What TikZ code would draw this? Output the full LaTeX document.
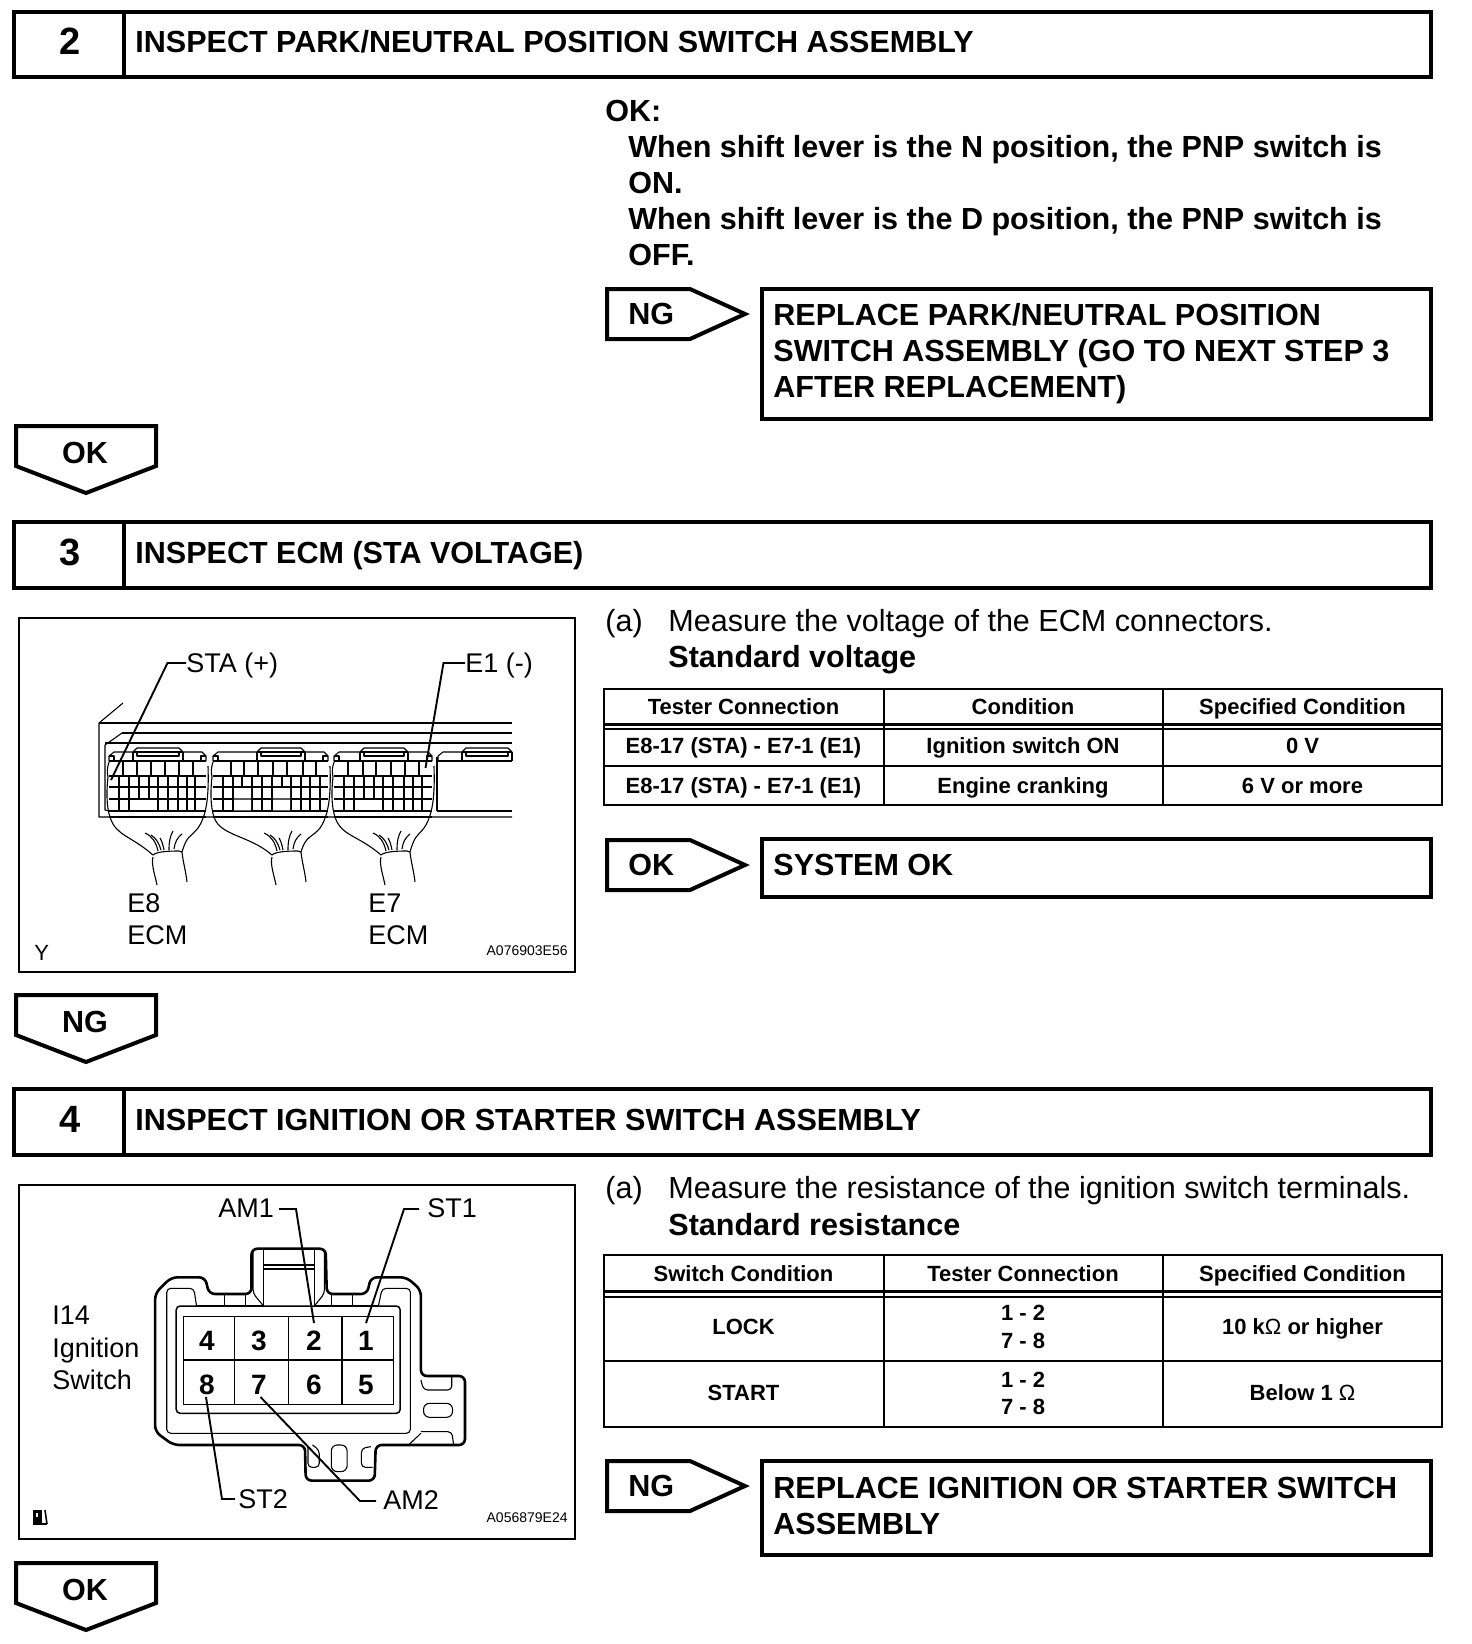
\documentclass[tikz,border=0pt]{standalone}
\usepackage{fontspec}
\setmainfont{Liberation Sans}
\newcommand\fbig{\fontsize{15.27pt}{18pt}\selectfont}
\newcommand\fnum{\fontsize{19pt}{22pt}\selectfont\bfseries}
\newcommand\flab{\fontsize{13.5pt}{16pt}\selectfont}
\newcommand\ftab{\fontsize{11pt}{13pt}\selectfont\bfseries}
\newcommand\fpin{\fontsize{14pt}{16pt}\selectfont\bfseries}
\newcommand\fcode{\fontsize{7pt}{9pt}\selectfont}
\tikzset{
  heavy/.style={line width=2pt,line join=miter},
  frame/.style={line width=1.25pt},
  tabline/.style={line width=1.1pt},
  fine/.style={line width=.55pt,line join=round},
  mid/.style={line width=1.2pt,line join=round},
  leader/.style={line width=.95pt},
  tb/.style={anchor=base west,inner sep=0pt,font=\fbig\bfseries},
  tr/.style={anchor=base west,inner sep=0pt,font=\fbig},
  lab/.style={anchor=base west,inner sep=0pt,font=\flab},
  cell/.style={anchor=base,inner sep=0pt,font=\ftab},
  pin/.style={anchor=base,inner sep=0pt,font=\fpin},
  code/.style={anchor=base east,inner sep=0pt,font=\fcode},
  flagtext/.style={anchor=base,inner sep=0pt,font=\fbig\bfseries},
  numtext/.style={anchor=base,inner sep=0pt,font=\fnum}
}
% header bar: name, top y, bottom y, number, text
\newcommand\headerbar[5]{%
  \draw[heavy] (14,#2) rectangle (1431,#3);
  \draw[heavy] (124,#2) -- (124,#3);
  \node[numtext] (#1num) at (70,#3-23) {#4};
  \node[tb] (#1txt) at (135,#3-25) {#5};
}
% side flag: name, top y, text
\newcommand\sideflag[3]{%
  \draw[heavy] (607,#2+2) -- (690,#2+2) -- (745,#2+27) -- (690,#2+52) -- (607,#2+52) -- cycle;
  \node[tb] (#1) at (628,#2+37) {#3};
}
% down flag: name, top y, text
\newcommand\downflag[3]{%
  \draw[heavy] (16,#2+1) -- (156,#2+1) -- (156,#2+41) -- (86,#2+68) -- (16,#2+41) -- cycle;
  \node[flagtext] (#1) at (85,#2+38) {#3};
}
% ECM connector: L R tabL tabR C
\newcommand\ecmmod[5]{%
  \draw[fine] (#1+1,761) -- (#1+1,756) -- (#1+6,752) -- (#3,752) -- (#3+4,748) -- (#4-4,748) -- (#4,752) -- (#2-6,752) -- (#2-2,756) -- (#2-2,761);
  \draw[fine] (#3,752) -- (#4,752) (#3+4,752) -- (#3+4,756) -- (#4-4,756) -- (#4-4,752);
  \draw[fine] (#3,752) -- (#3,761) (#4,752) -- (#4,761);
  \draw[fine] (#1+1,756) -- (#1+6,756) -- (#1+6,761) (#2-2,756) -- (#2-7,756) -- (#2-7,761);
  \draw[fine] (#1+1,761) -- (#2-2,761);
  \draw[mid] (#1+1,776) -- (#2-2,776);
  \draw[fine] (#1+1,787) -- (#2-2,787) (#1+1,799) -- (#2-2,799) (#1+1,811) -- (#2-2,811) (#1+1,817) -- (#2-2,817);
  \draw[fine] (#1,777) .. controls (#1-2,795) and (#1-1,808) .. (#1+2,817) .. controls (#1+8,836) and (#5-35,835) .. (#5-12,855);
  \draw[fine] (#1+1,762) .. controls (#1-1,768) and (#1-1,772) .. (#1,777);
  \draw[fine] (#2,766) .. controls (#2+1,795) and (#2-1,815) .. (#2-10,828) .. controls (#2-18,838) and (#5+22,835) .. (#5+17,852);
  \draw[fine] (#5-12,855) .. controls (#5-8,851) and (#5+8,851) .. (#5+14,851) -- (#5+17,852);
  \draw[fine] (#5-12,857) .. controls (#5-14,864) and (#5-10,875) .. (#5-8,885);
  \draw[fine] (#5+17,852) .. controls (#5+18,862) and (#5+21,872) .. (#5+22,882);
  \draw[fine] (#5-7,851) .. controls (#5-9,842) and (#5-13,836) .. (#5-20,833);
  \draw[fine] (#5-4,850) .. controls (#5-6,843) and (#5-9,838) .. (#5-14,835);
  \draw[fine] (#5-1,850) .. controls (#5-2,845) and (#5-3,841) .. (#5-5,838);
  \draw[fine] (#5+4,850) .. controls (#5+4,842) and (#5+5,836) .. (#5+8,831);
  \draw[fine] (#5+9,849) .. controls (#5+10,842) and (#5+12,838) .. (#5+17,834);
}
\begin{document}
\begin{tikzpicture}[x=.5pt,y=-.5pt]
\useasboundingbox (0,0) rectangle (1472,1644);
\fill[white] (0,0) rectangle (1472,1644);

%% ---------- step 2
\headerbar{hA}{12}{77}{2}{INSPECT PARK/NEUTRAL POSITION SWITCH ASSEMBLY}
\node[tb] (okA) at (605,121) {OK:};
\node[tb] (okA1) at (628,157) {When shift lever is the N position, the PNP switch is};
\node[tb] (okA2) at (628,193) {ON.};
\node[tb] (okA3) at (628,229) {When shift lever is the D position, the PNP switch is};
\node[tb] (okA4) at (628,265) {OFF.};
\sideflag{ngA}{287}{NG}
\draw[heavy] (762,289) rectangle (1431,419);
\node[tb] (repA1) at (773,325) {REPLACE PARK/NEUTRAL POSITION};
\node[tb] (repA2) at (773,361) {SWITCH ASSEMBLY (GO TO NEXT STEP 3};
\node[tb] (repA3) at (773,397) {AFTER REPLACEMENT)};
\downflag{dfA}{425}{OK}

%% ---------- step 3
\headerbar{hB}{522}{588}{3}{INSPECT ECM (STA VOLTAGE)}
\draw[frame] (19,618) rectangle (575,972);
\node[tr] (aB) at (605,631) {(a)};
\node[tr] (mB) at (668,631) {Measure the voltage of the ECM connectors.};
\node[tb] (sB) at (668,667) {Standard voltage};
% table
\draw[tabline] (604,689) rectangle (1442,805);
\draw[tabline] (884,689) -- (884,805) (1163,689) -- (1163,805) (604,766) -- (1442,766);
\draw[line width=1.5pt] (604,724) -- (1442,724);
\draw[tabline] (604,729) -- (1442,729);
\node[cell] (t1a) at (743.5,714) {Tester Connection};
\node[cell] (t1b) at (1023,714) {Condition};
\node[cell] (t1c) at (1302.5,714) {Specified Condition};
\node[cell] (t1d) at (743.5,753) {E8-17 (STA) - E7-1 (E1)};
\node[cell] (t1e) at (1023,753) {Ignition switch ON};
\node[cell] (t1f) at (1302.5,753) {0 V};
\node[cell] (t1g) at (743.5,793) {E8-17 (STA) - E7-1 (E1)};
\node[cell] (t1h) at (1023,793) {Engine cranking};
\node[cell] (t1i) at (1302.5,793) {6 V or more};
\sideflag{okB}{838}{OK}
\draw[heavy] (762,839) rectangle (1431,897);
\node[tb] (sysB) at (773,875) {SYSTEM OK};
\downflag{dfB}{994}{NG}

% ECM housing
\draw[fine] (123,703) -- (99,723) -- (99,817) -- (512,817);
\draw[fine] (99,723) -- (512,723);
\draw[line width=.95pt] (122,733) -- (512,733);
\draw[fine] (122,733) -- (105,745) -- (105,810) -- (109,811);
\draw[fine] (105,743) -- (512,743);
\draw[fine] (437,811) -- (512,811) (437,757) -- (437,811);
\ecmmod{108}{208}{133}{183}{165}
\ecmmod{212}{330}{257}{305}{284}
\ecmmod{333}{434}{360}{408}{393}
% fourth connector stub
\draw[fine] (438,761) -- (438,756) -- (443,752) -- (462,752) -- (466,748) -- (508,748) -- (512,752);
\draw[fine] (462,752) -- (512,752) (466,752) -- (466,756) -- (508,756) -- (508,752);
\draw[fine] (462,752) -- (462,761) -- (512,761) (512,752) -- (512,761);
\draw[fine] (438,761) -- (462,761);
% cell walls, connector E8
\foreach \x in {123,151,179,193} \draw[fine] (\x,761) -- (\x,776);
\foreach \x in {137,165} \draw[mid] (\x,761) -- (\x,776);
\foreach \x in {119,129,158,168,178,195} \draw[fine] (\x,776) -- (\x,811);
\foreach \x in {139,149} \draw[fine] (\x,776) -- (\x,799);
\draw[mid] (187,776) -- (187,811);
% middle connector
\foreach \x in {231,244,258,273,287,303} \draw[fine] (\x,761) -- (\x,776);
\draw[mid] (316,761) -- (316,776);
\foreach \x in {223,233,252,272,301,310,320} \draw[fine] (\x,776) -- (\x,811);
\draw[fine] (242,776) -- (242,787) (282,776) -- (282,787);
\foreach \x in {262,291} \draw[mid] (\x,776) -- (\x,811);
\fill[white] (234,788) rectangle (251,798.4) (234,799.6) rectangle (251,810.4) (273,788) rectangle (290,798.4) (273,799.6) rectangle (290,810.4);
% connector E7
\foreach \x in {348,363,391,405,419} \draw[fine] (\x,761) -- (\x,776);
\draw[mid] (376,761) -- (376,776);
\foreach \x in {344,383,393,404,413,422} \draw[fine] (\x,776) -- (\x,811);
\foreach \x in {364,374} \draw[fine] (\x,776) -- (\x,799);
\draw[mid] (354,776) -- (354,811);
% labels
\node[lab] (sta) at (186,672) {STA (+)};
\node[lab] (eone) at (465,672) {E1 (-)};
\coordinate (staP) at (111,780);
\coordinate (eoneP) at (425.5,768);
\draw[leader] (sta.west |- 0,663) -- (167.5,663) -- (staP);
\draw[leader] (eone.west |- 0,663) -- (443.5,663) -- (eoneP);
\node[lab] (e8) at (127,912) {E8};
\node[lab] (e8b) at (127,944) {ECM};
\node[lab] (e7) at (368,912) {E7};
\node[lab] (e7b) at (368,944) {ECM};
\node[lab] (yB) at (34,960) {\fontsize{11pt}{13pt}\selectfont Y};
\node[code] (codeB) at (568,955) {A076903E56};

%% ---------- step 4
\headerbar{hC}{1089}{1155}{4}{INSPECT IGNITION OR STARTER SWITCH ASSEMBLY}
\draw[frame] (19,1185) rectangle (575,1539);
\node[tr] (aC) at (605,1198) {(a)};
\node[tr] (mC) at (668,1198) {Measure the resistance of the ignition switch terminals.};
\node[tb] (sC) at (668,1235) {Standard resistance};
% table
\draw[tabline] (604,1255) rectangle (1442,1427);
\draw[tabline] (884,1255) -- (884,1427) (1163,1255) -- (1163,1427) (604,1361) -- (1442,1361);
\draw[line width=1.5pt] (604,1291) -- (1442,1291);
\draw[tabline] (604,1297) -- (1442,1297);
\node[cell] (t2a) at (743.5,1281) {Switch Condition};
\node[cell] (t2b) at (1023,1281) {Tester Connection};
\node[cell] (t2c) at (1302.5,1281) {Specified Condition};
\node[cell] (t2d) at (743.5,1334) {LOCK};
\node[cell] (t2e) at (1023,1320) {1 - 2};
\node[cell] (t2f) at (1023,1348) {7 - 8};
\node[cell] (t2g) at (1302.5,1334) {10 k{\mdseries Ω} or higher};
\node[cell] (t2h) at (743.5,1400) {START};
\node[cell] (t2i) at (1023,1387) {1 - 2};
\node[cell] (t2j) at (1023,1414) {7 - 8};
\node[cell] (t2k) at (1302.5,1400) {Below 1 {\mdseries Ω}};
\sideflag{ngC}{1459}{NG}
\draw[heavy] (762,1461) rectangle (1431,1555);
\node[tb] (repC1) at (773,1498) {REPLACE IGNITION OR STARTER SWITCH};
\node[tb] (repC2) at (773,1534) {ASSEMBLY};
\downflag{dfC}{1562}{OK}

% ignition connector drawn in zoom space
\begin{scope}[shift={(0,1170)},xscale=.3765,yscale=.3333]
  \draw[line width=1.3pt,rounded corners=3pt,line join=round]
    (412,785) -- (412,370) -- (455,322) -- (545,322) -- (555,372) -- (668,372) -- (668,236) -- (865,236) -- (868,372) -- (975,372) -- (985,322) -- (1080,322) -- (1118,360) -- (1118,618) -- (1235,618) -- (1235,825) -- (998,825) -- (995,932) -- (812,932) -- (810,825) -- (460,825) -- cycle;
  \draw[fine,rounded corners=2pt] (522,408) -- (515,355) -- (443,355) -- (443,790) -- (1090,790) -- (1090,355) -- (1015,355) -- (1005,408);
  \draw[line width=.75pt,rounded corners=2pt] (468,408) rectangle (1063,730);
  \draw[fine] (522,408) -- (700,408) -- (700,240);
  \draw[fine] (835,240) -- (835,408) -- (1005,408);
  \draw[fine] (700,285) -- (835,285) (700,297) -- (835,297);
  \draw[fine] (597,375) -- (597,408) (653,375) -- (653,408) (880,375) -- (880,408) (937,375) -- (937,408);
  \draw[fine,rounded corners=2pt] (672,245) -- (672,370) -- (700,408);
  \draw[fine,rounded corners=2pt] (862,245) -- (862,370) -- (835,408);
  % right lug
  \draw[fine,rounded corners=2pt] (1118,630) -- (1125,660) -- (1200,660) -- (1200,620);
  \draw[fine,rounded corners=3pt] (1125,700) rectangle (1202,742);
  \draw[fine,rounded corners=2pt] (1118,785) -- (1200,785) -- (1205,825);
  \draw[fine] (1118,790) -- (1085,825);
  % bottom lug
  \draw[fine,rounded corners=2pt] (830,825) -- (848,840) -- (848,892) -- (818,892) -- (818,830);
  \draw[fine,rounded corners=3pt] (880,825) rectangle (922,905);
  \draw[fine,rounded corners=2pt] (985,830) -- (960,835) -- (960,892) -- (990,892);
  % pin grid
  \draw[line width=.75pt] (487,440) rectangle (1045,703);
  \draw[line width=.65pt] (623,440) -- (623,703) (767,440) -- (767,703) (908,440) -- (908,703);
  \draw[line width=1.1pt] (487,570) -- (1045,570);
\end{scope}
\node[pin] (p4) at (207,1350) {4};
\node[pin] (p3) at (259,1350) {3};
\node[pin] (p2) at (314,1350) {2};
\node[pin] (p1) at (366,1350) {1};
\node[pin] (p8) at (207,1394) {8};
\node[pin] (p7) at (259,1394) {7};
\node[pin] (p6) at (314,1394) {6};
\node[pin] (p5) at (366,1394) {5};
\node[lab] (am1) at (218,1217) {AM1};
\node[lab] (st1) at (427,1217) {ST1};
\node[lab] (st2) at (238,1508) {ST2};
\node[lab] (am2) at (383,1509) {AM2};
\node[lab] (i14) at (52,1324) {I14};
\node[lab] (ign) at (52,1357) {Ignition};
\node[lab] (swi) at (52,1389) {Switch};
\coordinate (am1P) at (314,1323);
\coordinate (st1P) at (366,1323);
\coordinate (st2P) at (206,1397);
\coordinate (am2P) at (260.5,1397);
\draw[leader] (279,1209) -- (296,1209) -- (am1P);
\draw[leader] (419,1209) -- (404,1209) -- (st1P);
\draw[leader] (235,1499) -- (222,1499) -- (st2P);
\draw[leader] (376,1501) -- (360,1501) -- (am2P);
\node[code] (codeC) at (568,1522) {A056879E24};
% small glyph lower left
\fill (33,1510) rectangle (42,1524);
\draw[line width=.8pt] (33,1524) -- (47,1524) (47,1524) -- (45,1510);
\fill[white] (36,1513) rectangle (38,1517);
\end{tikzpicture}
\end{document}
